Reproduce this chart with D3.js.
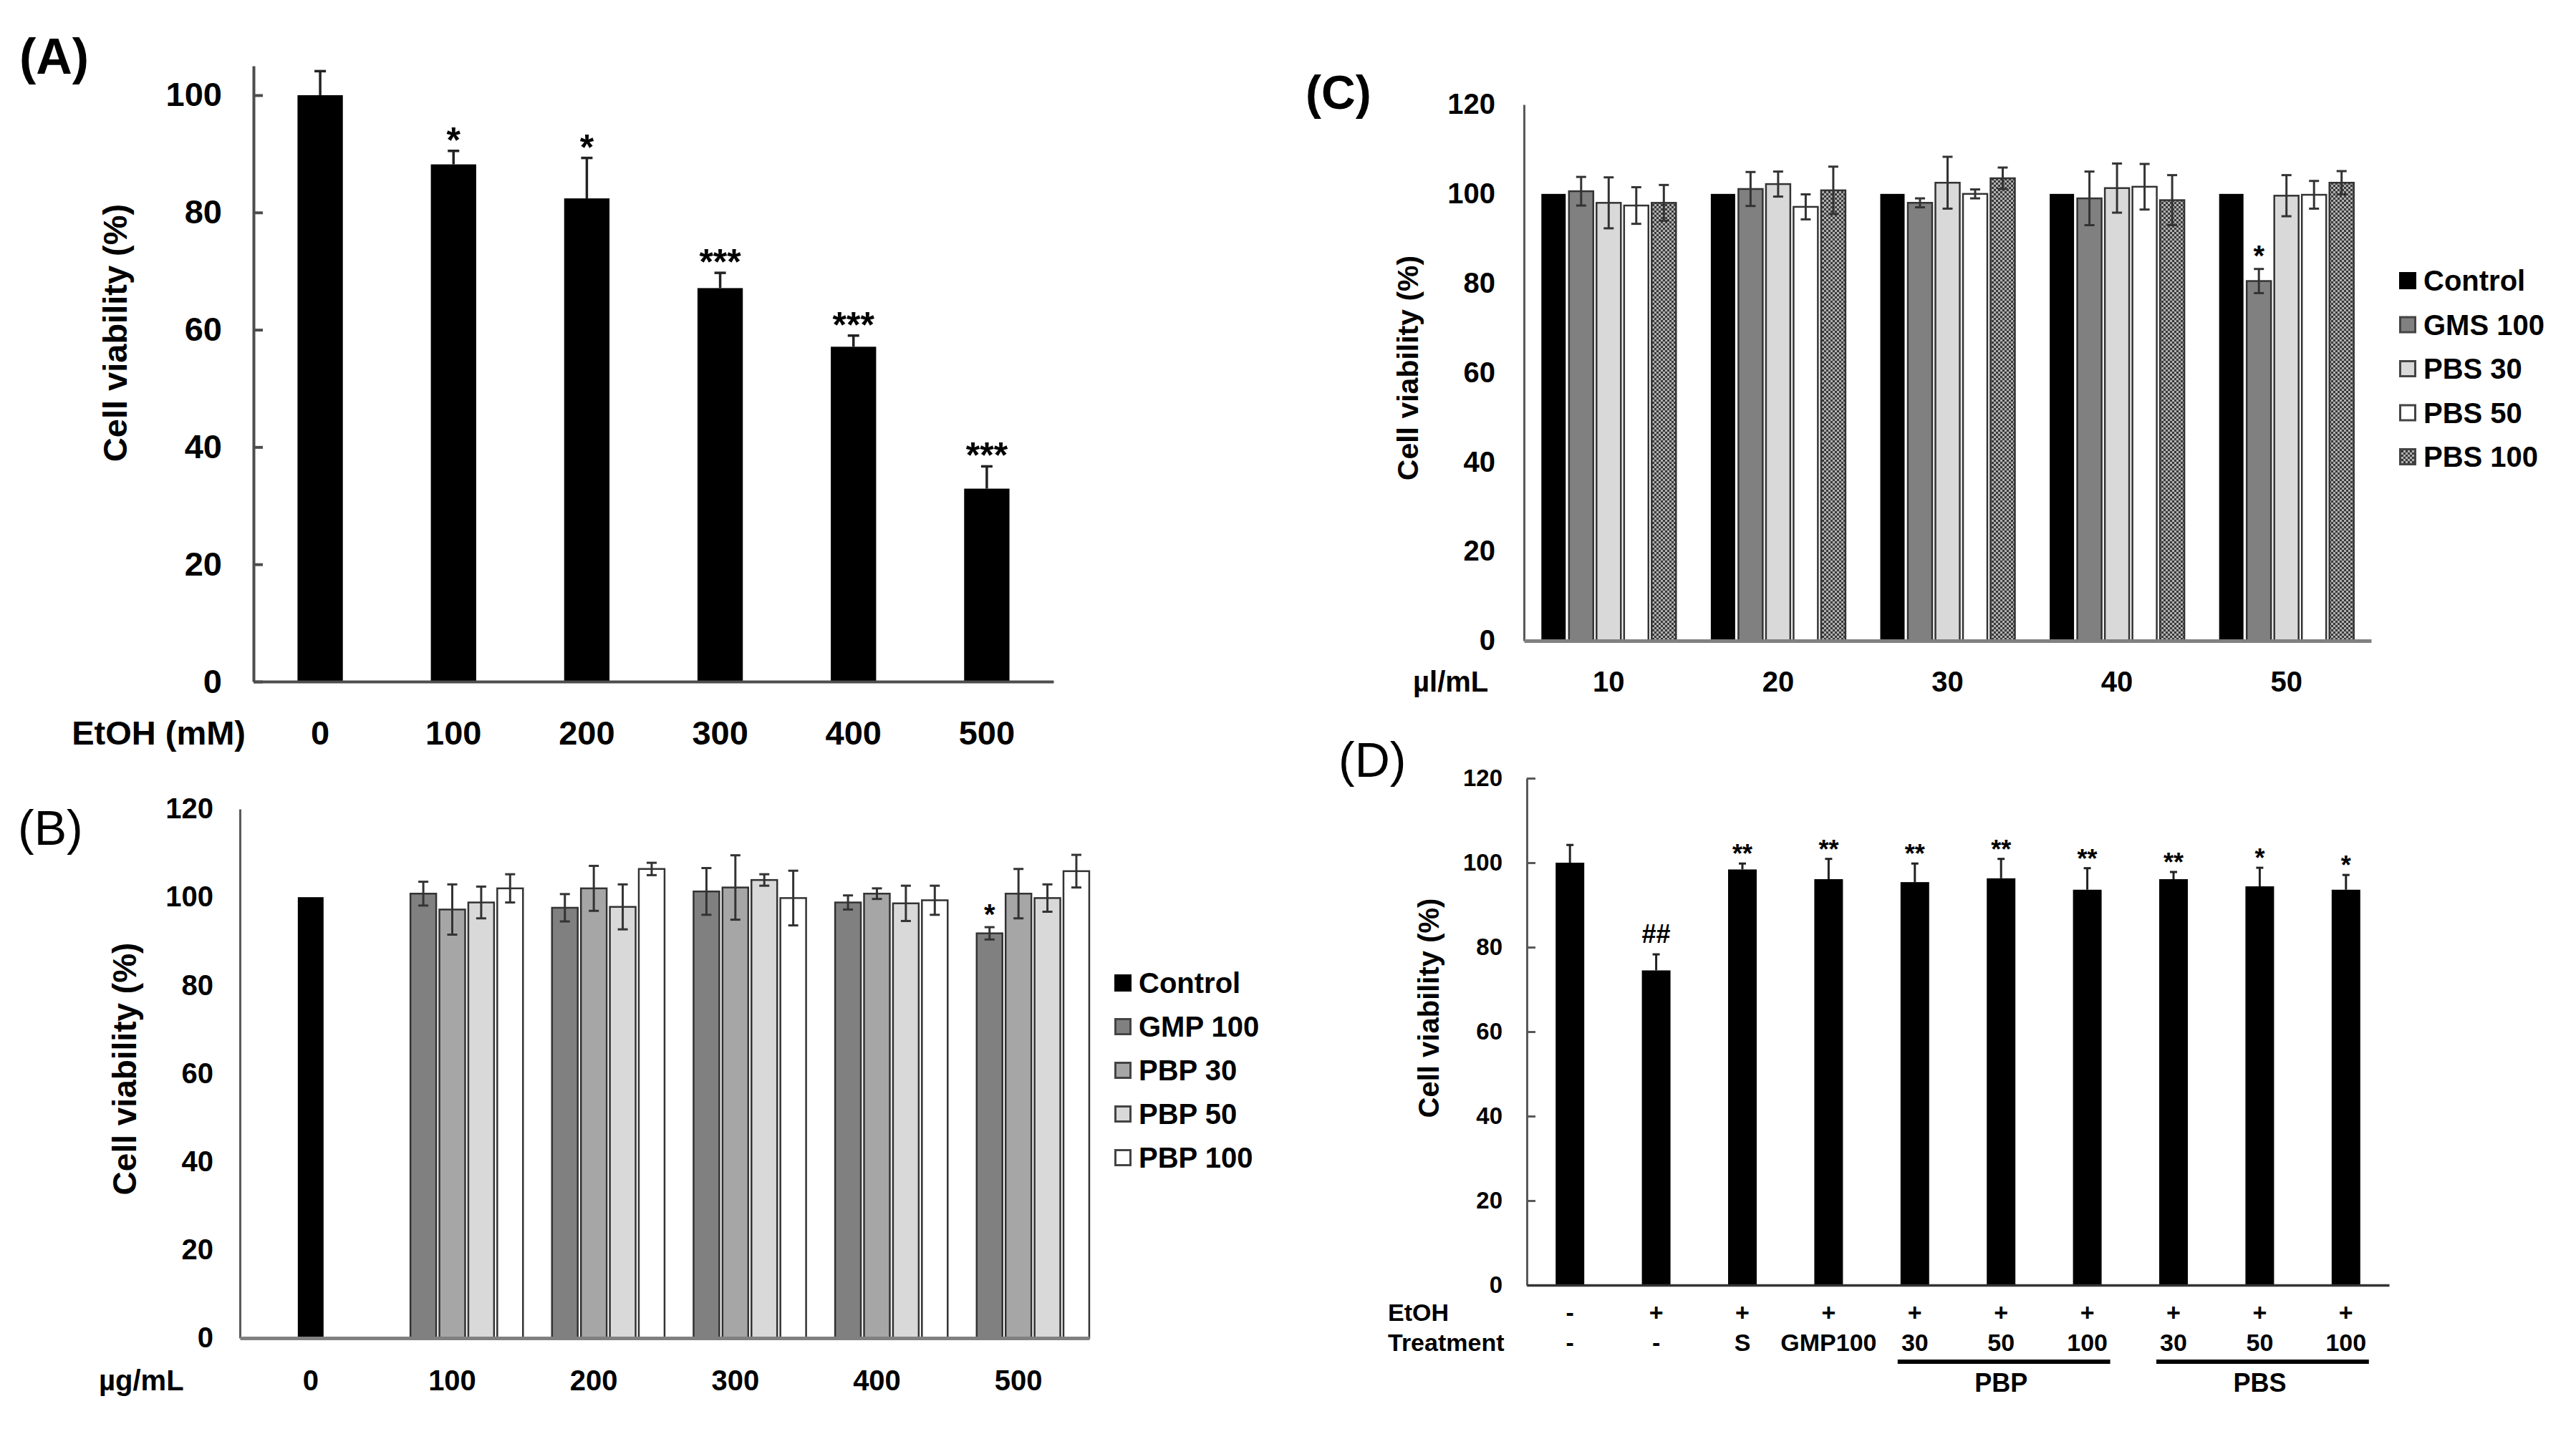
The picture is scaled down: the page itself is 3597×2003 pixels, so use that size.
<!DOCTYPE html>
<html><head><meta charset="utf-8">
<script src="https://cdn.jsdelivr.net/npm/d3@7"></script>
<style>
body{margin:0;background:#fff}
text{font-family:"Liberation Sans",Arial,Helvetica,sans-serif;font-weight:bold;fill:#000}
</style>
</head><body>
<svg id="c" width="3597" height="2003"></svg>
<script>
// ---------- DATA ----------
// Panel A
const aCats = ["0","100","200","300","400","500"];
const aVals = [100, 88.2, 82.4, 67.1, 57.1, 32.9];
const aErr  = [4.1, 2.3, 6.9, 2.6, 1.9, 3.8];
const aSig  = ["", "*", "*", "***", "***", "***"];
const aYTicks = [0,20,40,60,80,100];

// Panel B
const bCats = ["0","100","200","300","400","500"];
const bSeries = ["Control","GMP 100","PBP 30","PBP 50","PBP 100"];
const bControl   = [100, null, null, null, null, null];
const bGMP100    = [null, 100.8, 97.6, 101.3, 98.8, 91.8];
const bGMP100Err = [null, 2.7, 3.1, 5.3, 1.6, 1.4];
const bPBP30     = [null, 97.2, 102.0, 102.2, 100.8, 100.8];
const bPBP30Err  = [null, 5.7, 5.1, 7.3, 1.2, 5.6];
const bPBP50     = [null, 98.8, 97.8, 103.9, 98.6, 99.8];
const bPBP50Err  = [null, 3.6, 5.1, 1.3, 4.0, 3.1];
const bPBP100    = [null, 102.0, 106.4, 99.8, 99.3, 105.9];
const bPBP100Err = [null, 3.2, 1.4, 6.2, 3.3, 3.7];
const bSig = {series:"GMP 100", cat:"500", text:"*"};
const bYTicks = [0,20,40,60,80,100,120];

// Panel C
const cCats = ["10","20","30","40","50"];
const cSeries = ["Control","GMS 100","PBS 30","PBS 50","PBS 100"];
const cControl   = [100, 100, 100, 100, 100];
const cGMS100    = [100.6, 101.1, 98.0, 99.0, 80.5];
const cGMS100Err = [3.2, 3.8, 1.0, 6.0, 2.7];
const cPBS30     = [98.0, 102.2, 102.5, 101.3, 99.6];
const cPBS30Err  = [5.7, 2.8, 5.8, 5.5, 4.6];
const cPBS50     = [97.4, 97.1, 100.0, 101.6, 99.8];
const cPBS50Err  = [4.1, 2.8, 1.0, 5.1, 3.1];
const cPBS100    = [98.0, 100.8, 103.5, 98.6, 102.5];
const cPBS100Err = [4.0, 5.3, 2.4, 5.6, 2.6];
const cSig = {series:"GMS 100", cat:"50", text:"*"};
const cYTicks = [0,20,40,60,80,100,120];

// Panel D
const dCats  = ["c1","c2","c3","c4","c5","c6","c7","c8","c9","c10"];
const dEtOH  = ["-","+","+","+","+","+","+","+","+","+"];
const dTreat = ["-","-","S","GMP100","30","50","100","30","50","100"];
const dVals  = [100, 74.5, 98.4, 96.1, 95.4, 96.3, 93.6, 96.1, 94.4, 93.6];
const dErr   = [4.2, 3.8, 1.4, 4.8, 4.4, 4.6, 5.1, 1.7, 4.4, 3.5];
const dSig   = ["", "##", "**", "**", "**", "**", "**", "**", "*", "*"];
const dGroups = [{label:"PBP", from:"c5", to:"c7"}, {label:"PBS", from:"c8", to:"c10"}];
const dYTicks = [0,20,40,60,80,100,120];

// ---------- SETUP ----------
const svg = d3.select("#c");
svg.append("rect").attr("width",3597).attr("height",2003).attr("fill","#fff");
const defs = svg.append("defs");
const pat = defs.append("pattern").attr("id","dots").attr("width",6).attr("height",6).attr("patternUnits","userSpaceOnUse");
pat.append("rect").attr("width",6).attr("height",6).attr("fill","#b0b0b0");
pat.append("rect").attr("width",3).attr("height",3).attr("fill","#3a3a3a");
pat.append("rect").attr("x",3).attr("y",3).attr("width",3).attr("height",3).attr("fill","#3a3a3a");

function panelLabel(txt, x, y, size, weight){
  svg.append("text").attr("x",x).attr("y",y).style("font-size",size+"px").style("font-weight",weight).text(txt);
}
function yTitle(x, y, size){
  svg.append("text").attr("transform",`translate(${x},${y}) rotate(-90)`).attr("text-anchor","middle")
    .style("font-size",size+"px").text("Cell viability (%)");
}
function styleAxis(g, color, width, fontSize){
  g.selectAll(".domain").attr("stroke",color).attr("stroke-width",width);
  g.selectAll(".tick line").attr("stroke",color).attr("stroke-width",width);
  g.selectAll(".tick text").style("font-size",fontSize+"px").style("font-family",'"Liberation Sans",Arial,sans-serif').style("font-weight","bold").attr("fill","#000");
}

// ---------- PANEL A ----------
{
  const xA = d3.scaleBand().domain(aCats).range([354,1471]).paddingInner(0.66).paddingOuter(0.33);
  const yA = d3.scaleLinear().domain([0,105]).range([952,92]);
  const g = svg.append("g");
  g.selectAll("rect.bar").data(aCats).join("rect")
    .attr("x",d=>xA(d)).attr("width",xA.bandwidth())
    .attr("y",(d,i)=>yA(aVals[i])).attr("height",(d,i)=>yA(0)-yA(aVals[i])).attr("fill","#000");
  const eb = g.selectAll("g.eb").data(aCats).join("g");
  eb.append("line").attr("x1",d=>xA(d)+xA.bandwidth()/2).attr("x2",d=>xA(d)+xA.bandwidth()/2)
    .attr("y1",(d,i)=>yA(aVals[i])).attr("y2",(d,i)=>yA(aVals[i]+aErr[i])).attr("stroke","#222").attr("stroke-width",3.5);
  eb.append("line").attr("x1",d=>xA(d)+xA.bandwidth()/2-8).attr("x2",d=>xA(d)+xA.bandwidth()/2+8)
    .attr("y1",(d,i)=>yA(aVals[i]+aErr[i])).attr("y2",(d,i)=>yA(aVals[i]+aErr[i])).attr("stroke","#222").attr("stroke-width",3.5);
  g.selectAll("text.sig").data(aCats).join("text")
    .attr("x",d=>xA(d)+xA.bandwidth()/2).attr("y",(d,i)=>yA(aVals[i]+aErr[i])+2)
    .attr("text-anchor","middle").style("font-size","50px").text((d,i)=>aSig[i]);
  const ay = g.append("g").attr("transform","translate(354,0)")
    .call(d3.axisLeft(yA).tickValues(aYTicks).tickSizeInner(-13).tickSizeOuter(0).tickPadding(44));
  styleAxis(ay,"#4d4d4d",4,47);
  const ax = g.append("g").attr("transform","translate(0,952)")
    .call(d3.axisBottom(xA).tickSize(0).tickPadding(55));
  styleAxis(ax,"#4d4d4d",4,47);
  g.append("text").attr("x",343).attr("y",1040).attr("text-anchor","end").style("font-size","47px").text("EtOH (mM)");
  yTitle(177, 465, 47);
  panelLabel("(A)", 27, 103, 70, "bold");
}

// ---------- PANEL B ----------
{
  const bData = {"Control":[bControl,null],"GMP 100":[bGMP100,bGMP100Err],"PBP 30":[bPBP30,bPBP30Err],"PBP 50":[bPBP50,bPBP50Err],"PBP 100":[bPBP100,bPBP100Err]};
  const bFill = {"Control":"#000","GMP 100":"#808080","PBP 30":"#a6a6a6","PBP 50":"#d9d9d9","PBP 100":"#fff"};
  const xB = d3.scaleBand().domain(bCats).range([335,1521]);
  const inB = d3.scaleBand().domain(bSeries).range([-101,101]).paddingInner(0.11).paddingOuter(0.055);
  const yB = d3.scaleLinear().domain([0,120]).range([1869,1130]);
  const items = [];
  bSeries.forEach(s=>{
    const [vals,errs] = bData[s];
    bCats.forEach((c,i)=>{
      if(vals[i]==null) return;
      const cx = s==="Control" ? xB(c)+xB.bandwidth()/2 : xB(c)+xB.bandwidth()/2+inB(s)+inB.bandwidth()/2;
      items.push({s,c,v:vals[i],e:errs?errs[i]:0,cx});
    });
  });
  const g = svg.append("g");
  const w = inB.bandwidth();
  g.selectAll("rect.bar").data(items).join("rect")
    .attr("x",d=>d.cx-w/2).attr("width",w).attr("y",d=>yB(d.v)).attr("height",d=>yB(0)-yB(d.v))
    .attr("fill",d=>bFill[d.s]).attr("stroke",d=>d.s==="Control"?"none":"#333").attr("stroke-width",2.5);
  const eItems = items.filter(d=>d.e>0);
  const eg = g.selectAll("g.eb").data(eItems).join("g").attr("stroke","#333").attr("stroke-width",3);
  eg.append("line").attr("x1",d=>d.cx).attr("x2",d=>d.cx).attr("y1",d=>yB(d.v-d.e)).attr("y2",d=>yB(d.v+d.e));
  eg.append("line").attr("x1",d=>d.cx-7).attr("x2",d=>d.cx+7).attr("y1",d=>yB(d.v+d.e)).attr("y2",d=>yB(d.v+d.e));
  eg.append("line").attr("x1",d=>d.cx-7).attr("x2",d=>d.cx+7).attr("y1",d=>yB(d.v-d.e)).attr("y2",d=>yB(d.v-d.e));
  const sItem = items.find(d=>d.s===bSig.series && d.c===bSig.cat);
  g.append("text").attr("x",sItem.cx).attr("y",yB(sItem.v+sItem.e)-4).attr("text-anchor","middle").style("font-size","40px").text(bSig.text);
  const ay = g.append("g").attr("transform","translate(335,0)")
    .call(d3.axisLeft(yB).tickValues(bYTicks).tickSize(0).tickPadding(37));
  styleAxis(ay,"#595959",3,40);
  const ax = g.append("g").attr("transform","translate(0,1869)")
    .call(d3.axisBottom(xB).tickSize(0).tickPadding(45));
  styleAxis(ax,"#808080",5,40);
  g.append("text").attr("x",138).attr("y",1942).style("font-size","40px").text("µg/mL");
  yTitle(190, 1493, 46);
  panelLabel("(B)", 25, 1180, 68, "normal");
  // legend
  const legY = d3.scalePoint().domain(bSeries).range([1373,1617]);
  const lg = g.selectAll("g.leg").data(bSeries).join("g").attr("transform",s=>`translate(1556,${legY(s)})`);
  lg.append("rect").attr("x",1.5).attr("y",-10.5).attr("width",21).attr("height",21).attr("fill",s=>bFill[s]).attr("stroke",s=>s==="Control"?"#000":"#444").attr("stroke-width",3);
  lg.append("text").attr("x",34).attr("y",14).style("font-size","40px").text(s=>s);
}

// ---------- PANEL C ----------
{
  const cData = {"Control":[cControl,null],"GMS 100":[cGMS100,cGMS100Err],"PBS 30":[cPBS30,cPBS30Err],"PBS 50":[cPBS50,cPBS50Err],"PBS 100":[cPBS100,cPBS100Err]};
  const cFill = {"Control":"#000","GMS 100":"#808080","PBS 30":"#d9d9d9","PBS 50":"#fff","PBS 100":"url(#dots)"};
  const xC = d3.scaleBand().domain(cCats).range([2128,3311]);
  const inC = d3.scaleBand().domain(cSeries).range([-96.25,96.25]).paddingInner(0.117).paddingOuter(0.0585);
  const yC = d3.scaleLinear().domain([0,120]).range([895,146]);
  const items = [];
  cSeries.forEach(s=>{
    const [vals,errs] = cData[s];
    cCats.forEach((c,i)=>{
      items.push({s,c,v:vals[i],e:errs?errs[i]:0,cx:xC(c)+xC.bandwidth()/2+inC(s)+inC.bandwidth()/2});
    });
  });
  const g = svg.append("g");
  const w = inC.bandwidth();
  g.selectAll("rect.bar").data(items).join("rect")
    .attr("x",d=>d.cx-w/2).attr("width",w).attr("y",d=>yC(d.v)).attr("height",d=>yC(0)-yC(d.v))
    .attr("fill",d=>cFill[d.s]).attr("stroke",d=>d.s==="Control"?"none":"#333").attr("stroke-width",2.5);
  const eItems = items.filter(d=>d.e>0);
  const eg = g.selectAll("g.eb").data(eItems).join("g").attr("stroke","#333").attr("stroke-width",3);
  eg.append("line").attr("x1",d=>d.cx).attr("x2",d=>d.cx).attr("y1",d=>yC(d.v-d.e)).attr("y2",d=>yC(d.v+d.e));
  eg.append("line").attr("x1",d=>d.cx-7).attr("x2",d=>d.cx+7).attr("y1",d=>yC(d.v+d.e)).attr("y2",d=>yC(d.v+d.e));
  eg.append("line").attr("x1",d=>d.cx-7).attr("x2",d=>d.cx+7).attr("y1",d=>yC(d.v-d.e)).attr("y2",d=>yC(d.v-d.e));
  const sItem = items.find(d=>d.s===cSig.series && d.c===cSig.cat);
  g.append("text").attr("x",sItem.cx).attr("y",yC(sItem.v+sItem.e)-5).attr("text-anchor","middle").style("font-size","40px").text(cSig.text);
  const ay = g.append("g").attr("transform","translate(2128,0)")
    .call(d3.axisLeft(yC).tickValues(cYTicks).tickSize(0).tickPadding(40));
  styleAxis(ay,"#595959",3,40);
  const ax = g.append("g").attr("transform","translate(0,895)")
    .call(d3.axisBottom(xC).tickSize(0).tickPadding(43));
  styleAxis(ax,"#808080",5,40);
  g.append("text").attr("x",1973).attr("y",966).style("font-size","40px").text("µl/mL");
  yTitle(1980, 514, 41);
  panelLabel("(C)", 1823, 152, 66, "bold");
  const legY = d3.scalePoint().domain(cSeries).range([392,638]);
  const lg = g.selectAll("g.leg").data(cSeries).join("g").attr("transform",s=>`translate(3350,${legY(s)})`);
  lg.append("rect").attr("x",1.5).attr("y",-10.5).attr("width",21).attr("height",21).attr("fill",s=>cFill[s]).attr("stroke",s=>s==="Control"?"#000":"#444").attr("stroke-width",3);
  lg.append("text").attr("x",34).attr("y",14).style("font-size","40px").text(s=>s);
}

// ---------- PANEL D ----------
{
  const xD = d3.scaleBand().domain(dCats).range([2132,3336]).paddingInner(0.668).paddingOuter(0.334);
  const yD = d3.scaleLinear().domain([0,120]).range([1795,1087]);
  const cx = d=>xD(d)+xD.bandwidth()/2;
  const g = svg.append("g");
  g.selectAll("rect.bar").data(dCats).join("rect")
    .attr("x",d=>xD(d)).attr("width",xD.bandwidth())
    .attr("y",(d,i)=>yD(dVals[i])).attr("height",(d,i)=>yD(0)-yD(dVals[i])).attr("fill","#000");
  const eb = g.selectAll("g.eb").data(dCats).join("g").attr("stroke","#222").attr("stroke-width",3);
  eb.append("line").attr("x1",cx).attr("x2",cx).attr("y1",(d,i)=>yD(dVals[i])).attr("y2",(d,i)=>yD(dVals[i]+dErr[i]));
  eb.append("line").attr("x1",d=>cx(d)-5).attr("x2",d=>cx(d)+5).attr("y1",(d,i)=>yD(dVals[i]+dErr[i])).attr("y2",(d,i)=>yD(dVals[i]+dErr[i]));
  g.selectAll("text.sig").data(dCats).join("text")
    .attr("x",cx).attr("y",(d,i)=>yD(dVals[i]+dErr[i]) - (dSig[i].startsWith("#")?16:1))
    .attr("text-anchor","middle").style("font-size","36px").text((d,i)=>dSig[i]);
  const ay = g.append("g").attr("transform","translate(2132,0)")
    .call(d3.axisLeft(yD).tickValues(dYTicks).tickSizeInner(-12).tickSizeOuter(0).tickPadding(34));
  styleAxis(ay,"#595959",3,33);
  const ax = g.append("g").attr("transform","translate(0,1795)")
    .call(d3.axisBottom(xD).tickSize(0).tickFormat(""));
  styleAxis(ax,"#333",3.5,33);
  g.selectAll("text.etoh").data(dCats).join("text").attr("x",cx).attr("y",1845)
    .attr("text-anchor","middle").style("font-size","34px").text((d,i)=>dEtOH[i]);
  g.selectAll("text.treat").data(dCats).join("text").attr("x",cx).attr("y",1887)
    .attr("text-anchor","middle").style("font-size","34px").text((d,i)=>dTreat[i]);
  g.append("text").attr("x",1938).attr("y",1845).style("font-size","34px").text("EtOH");
  g.append("text").attr("x",1938).attr("y",1887).style("font-size","34px").text("Treatment");
  dGroups.forEach(gr=>{
    const x1 = cx(gr.from)-24, x2 = cx(gr.to)+32;
    g.append("line").attr("x1",x1).attr("x2",x2).attr("y1",1902).attr("y2",1902).attr("stroke","#000").attr("stroke-width",6);
    g.append("text").attr("x",(cx(gr.from)+cx(gr.to))/2).attr("y",1944).attr("text-anchor","middle").style("font-size","36px").text(gr.label);
  });
  yTitle(2009, 1408, 40);
  panelLabel("(D)", 1869, 1085, 68, "normal");
}
</script>
</body></html>
